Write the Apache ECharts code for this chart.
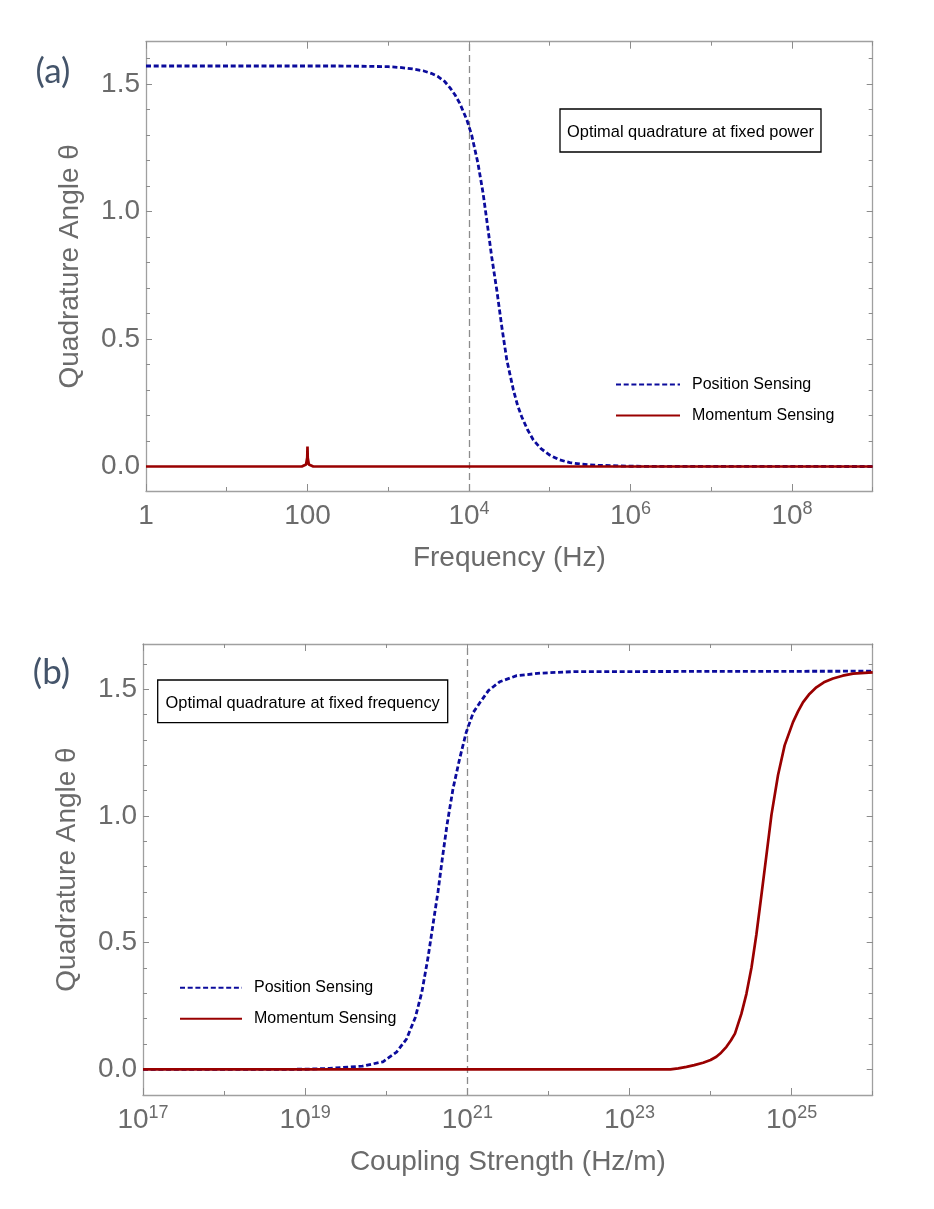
<!DOCTYPE html>
<html>
<head>
<meta charset="utf-8">
<script src="https://cdn.jsdelivr.net/npm/echarts@6/dist/echarts.min.js"></script>
<style>html,body{margin:0;padding:0;background:#fff}#c{width:934px;height:1209px}</style>
</head>
<body>
<div id="c"></div>
<script>
// ---------- data ----------
const freqLabelTicks = [1, 100, 1e4, 1e6, 1e8];
const couplingLabelTicks = [1e17, 1e19, 1e21, 1e23, 1e25];
const angleLabelTicks = [0, 0.5, 1.0, 1.5];
const angleMinorTicks = [0, 0.1, 0.2, 0.3, 0.4, 0.5, 0.6, 0.7, 0.8, 0.9, 1.0, 1.1, 1.2, 1.3, 1.4, 1.5, 1.6];
const seriesNames = ['Position Sensing', 'Momentum Sensing'];
const markerFreq = 1e4;
const markerCoupling = 1e21;

// panel (a): theta vs frequency (Hz)
const positionA = [
  [1, 1.5708], [300, 1.5706], [1000, 1.568], [1400, 1.565], [2000, 1.559], [2700, 1.552],
  [3400, 1.542], [4100, 1.53], [5000, 1.51], [5800, 1.486], [6700, 1.458], [7700, 1.424],
  [9400, 1.36], [10800, 1.30], [12900, 1.19], [14900, 1.075], [16600, 0.967], [19100, 0.823],
  [22100, 0.692], [25500, 0.548], [29400, 0.418], [35500, 0.300], [40000, 0.240],
  [45000, 0.195], [53000, 0.145], [62700, 0.104], [78000, 0.070], [100000, 0.045],
  [130000, 0.027], [178000, 0.015], [250000, 0.009], [380000, 0.005], [1000000, 0.001], [1e9, 0]
];
const momentumA = [
  [1, 0], [85, 0], [96, 0.008], [99.3, 0.035], [100, 0.078], [100.7, 0.035],
  [104, 0.008], [118, 0], [1e9, 0]
];
// panel (b): theta vs coupling strength (Hz/m)
const positionB = [
  [1e17, 0], [1e19, 0.0005], [2.0e19, 0.004], [5.1e19, 0.013], [9.1e19, 0.030],
  [1.34e20, 0.068], [1.78e20, 0.12], [2.29e20, 0.206], [2.75e20, 0.305], [3.28e20, 0.442],
  [3.78e20, 0.573], [4.36e20, 0.703], [4.93e20, 0.834], [5.62e20, 0.965], [6.67e20, 1.108],
  [8.05e20, 1.226], [9.7e20, 1.33], [1.19e21, 1.409], [1.44e21, 1.448], [1.82e21, 1.494],
  [2.51e21, 1.529], [4.07e21, 1.553], [7.94e21, 1.563], [2.04e22, 1.569], [1e26, 1.5708]
];
const momentumB = [
  [1e17, 0], [3.2e23, 0], [4.0e23, 0.004], [5.05e23, 0.010], [6.3e23, 0.017], [8.1e23, 0.026],
  [1.0e24, 0.037], [1.18e24, 0.050], [1.35e24, 0.066], [1.57e24, 0.089], [1.78e24, 0.114],
  [2.0e24, 0.141], [2.4e24, 0.219], [2.77e24, 0.298], [3.2e24, 0.402], [3.68e24, 0.533],
  [4.25e24, 0.690], [4.9e24, 0.847], [5.64e24, 1.004], [6.8e24, 1.161], [8.2e24, 1.278],
  [1.04e25, 1.370], [1.2e25, 1.412], [1.38e25, 1.448], [1.66e25, 1.481], [2.02e25, 1.507],
  [2.5e25, 1.527], [3.24e25, 1.542], [4.27e25, 1.553], [5.73e25, 1.561], [1e26, 1.566]
];

// ---------- styling ----------
const FONT = '"Liberation Sans", Arial, sans-serif';
const GRAY = '#6b6b6b';
const frameStyle = { color: '#a0a0a0', width: 1.3 };
const tickStyle = { color: '#8c8c8c', width: 1 };
const BLUE = '#0b0b9c';
const RED = '#990000';

function powLabel(v) {
  const e = Math.round(Math.log10(v));
  if (e === 0) return '{b|1}';
  if (e === 2) return '{b|100}';
  return '{b|10}{s|' + e + '}';
}
const richPow = {
  b: { fontSize: 28, lineHeight: 32, color: GRAY, fontFamily: FONT },
  s: { fontSize: 18, lineHeight: 16, verticalAlign: 'top', color: GRAY, fontFamily: FONT }
};

function makeX(gi, min, max, labelTicks, name) {
  const base = {
    type: 'log', logBase: 10, gridIndex: gi, min: min, max: max,
    splitLine: { show: false }, axisLine: { show: false, onZero: false },
    axisLabel: { show: false }, axisTick: { show: false }, axisPointer: { show: false }
  };
  return [
    Object.assign({}, base, {
      position: 'bottom', name: name, nameLocation: 'middle', nameGap: 53,
      nameTextStyle: { fontSize: 28, color: GRAY, fontFamily: FONT },
      axisLine: { show: true, onZero: false, lineStyle: frameStyle },
      axisTick: { show: true, inside: true, length: 7, customValues: labelTicks, lineStyle: tickStyle },
      axisLabel: { show: true, customValues: labelTicks, formatter: powLabel, rich: richPow, margin: 9,
                   showMinLabel: true, showMaxLabel: true }
    }),
    Object.assign({}, base, {
      position: 'bottom', interval: 1,
      axisTick: { show: true, inside: true, length: 4, lineStyle: tickStyle }
    }),
    Object.assign({}, base, {
      position: 'top',
      axisLine: { show: true, onZero: false, lineStyle: frameStyle },
      axisTick: { show: true, inside: true, length: 7, customValues: labelTicks, lineStyle: tickStyle }
    }),
    Object.assign({}, base, {
      position: 'top', interval: 1,
      axisTick: { show: true, inside: true, length: 4, lineStyle: tickStyle }
    })
  ];
}

function makeY(gi, min, max) {
  const base = {
    type: 'value', gridIndex: gi, min: min, max: max,
    splitLine: { show: false }, axisLine: { show: false, onZero: false },
    axisLabel: { show: false }, axisTick: { show: false }, axisPointer: { show: false }
  };
  return [
    Object.assign({}, base, {
      position: 'left', name: 'Quadrature Angle θ', nameLocation: 'middle', nameGap: 62,
      nameTextStyle: { fontSize: 28, color: GRAY, fontFamily: FONT },
      axisLine: { show: true, onZero: false, lineStyle: frameStyle },
      axisTick: { show: true, inside: true, length: 6, customValues: angleLabelTicks, lineStyle: tickStyle },
      axisLabel: { show: true, customValues: angleLabelTicks, margin: 6,
                   formatter: function (v) { return Number(v).toFixed(1); },
                   fontSize: 28, color: GRAY, fontFamily: FONT }
    }),
    Object.assign({}, base, {
      position: 'left',
      axisTick: { show: true, inside: true, length: 4, customValues: angleMinorTicks, lineStyle: tickStyle }
    }),
    Object.assign({}, base, {
      position: 'right',
      axisLine: { show: true, onZero: false, lineStyle: frameStyle },
      axisTick: { show: true, inside: true, length: 6, customValues: angleLabelTicks, lineStyle: tickStyle }
    }),
    Object.assign({}, base, {
      position: 'right',
      axisTick: { show: true, inside: true, length: 4, customValues: angleMinorTicks, lineStyle: tickStyle }
    })
  ];
}

function posSeries(xi, yi, data, marker) {
  return {
    name: seriesNames[0], type: 'line', xAxisIndex: xi, yAxisIndex: yi, data: data,
    showSymbol: false, symbol: 'none', smooth: false,
    lineStyle: { color: BLUE, width: 2.8, type: [5, 2.7], cap: 'butt' },
    itemStyle: { color: BLUE }, z: 3,
    markLine: {
      silent: true, symbol: ['none', 'none'], label: { show: false },
      lineStyle: { type: [7, 4], color: '#8c8c8c', width: 1.3 },
      data: [{ xAxis: marker }], z: 1
    }
  };
}
function momSeries(xi, yi, data) {
  return {
    name: seriesNames[1], type: 'line', xAxisIndex: xi, yAxisIndex: yi, data: data,
    showSymbol: false, symbol: 'none', smooth: false,
    lineStyle: { color: RED, width: 2.7 }, itemStyle: { color: RED }, z: 4
  };
}

const legendBase = {
  orient: 'vertical', padding: 0, itemGap: 15, itemHeight: 16,
  data: seriesNames, selectedMode: false,
  itemStyle: { opacity: 0 },
  textStyle: { fontSize: 16, color: '#000', fontFamily: FONT, lineHeight: 16, padding: [0, 0, 0, 7] }
};

const option = {
  backgroundColor: '#fff',
  animation: false,
  grid: [
    { left: 146, top: 41.7, width: 726.7, height: 449.3 },
    { left: 143, top: 644, width: 729.7, height: 451 }
  ],
  xAxis: [].concat(
    makeX(0, 1, 1e9, freqLabelTicks, 'Frequency (Hz)'),
    makeX(1, 1e17, 1e26, couplingLabelTicks, 'Coupling Strength (Hz/m)')
  ),
  yAxis: [].concat(makeY(0, -0.096, 1.666), makeY(1, -0.101, 1.678)),
  legend: [
    Object.assign({}, legendBase, { left: 615, top: 376.5, itemWidth: 64 }),
    Object.assign({}, legendBase, { left: 179, top: 979.7, itemWidth: 62 })
  ],
  series: [
    posSeries(0, 0, positionA, markerFreq),
    momSeries(0, 0, momentumA),
    posSeries(4, 4, positionB, markerCoupling),
    momSeries(4, 4, momentumB)
  ],
  graphic: [
    { type: 'rect', shape: { x: 560, y: 109, width: 261, height: 43 },
      style: { fill: '#fff', stroke: '#000', lineWidth: 1.3 }, z: 10 },
    { type: 'text', x: 690.5, y: 132.5, z: 11,
      style: { text: 'Optimal quadrature at fixed power', fontSize: 16.4, fontFamily: FONT,
               fill: '#000', textAlign: 'center', textVerticalAlign: 'middle' } },
    { type: 'rect', shape: { x: 157.7, y: 680, width: 290, height: 42.7 },
      style: { fill: '#fff', stroke: '#000', lineWidth: 1.3 }, z: 10 },
    { type: 'text', x: 302.7, y: 703.3, z: 11,
      style: { text: 'Optimal quadrature at fixed frequency', fontSize: 16.4, fontFamily: FONT,
               fill: '#000', textAlign: 'center', textVerticalAlign: 'middle' } },
    { type: 'text', x: 53, y: 71.5, z: 11,
      style: { text: '(a)', fontSize: 35, fontFamily: 'Lato, "Open Sans", sans-serif',
               fill: '#44546a', textAlign: 'center', textVerticalAlign: 'middle' } },
    { type: 'text', x: 51.5, y: 672.5, z: 11,
      style: { text: '(b)', fontSize: 35, fontFamily: 'Lato, "Open Sans", sans-serif',
               fill: '#44546a', textAlign: 'center', textVerticalAlign: 'middle' } }
  ]
};

const chart = echarts.init(document.getElementById('c'), null, { renderer: 'canvas' });
chart.setOption(option);
</script>
</body>
</html>
